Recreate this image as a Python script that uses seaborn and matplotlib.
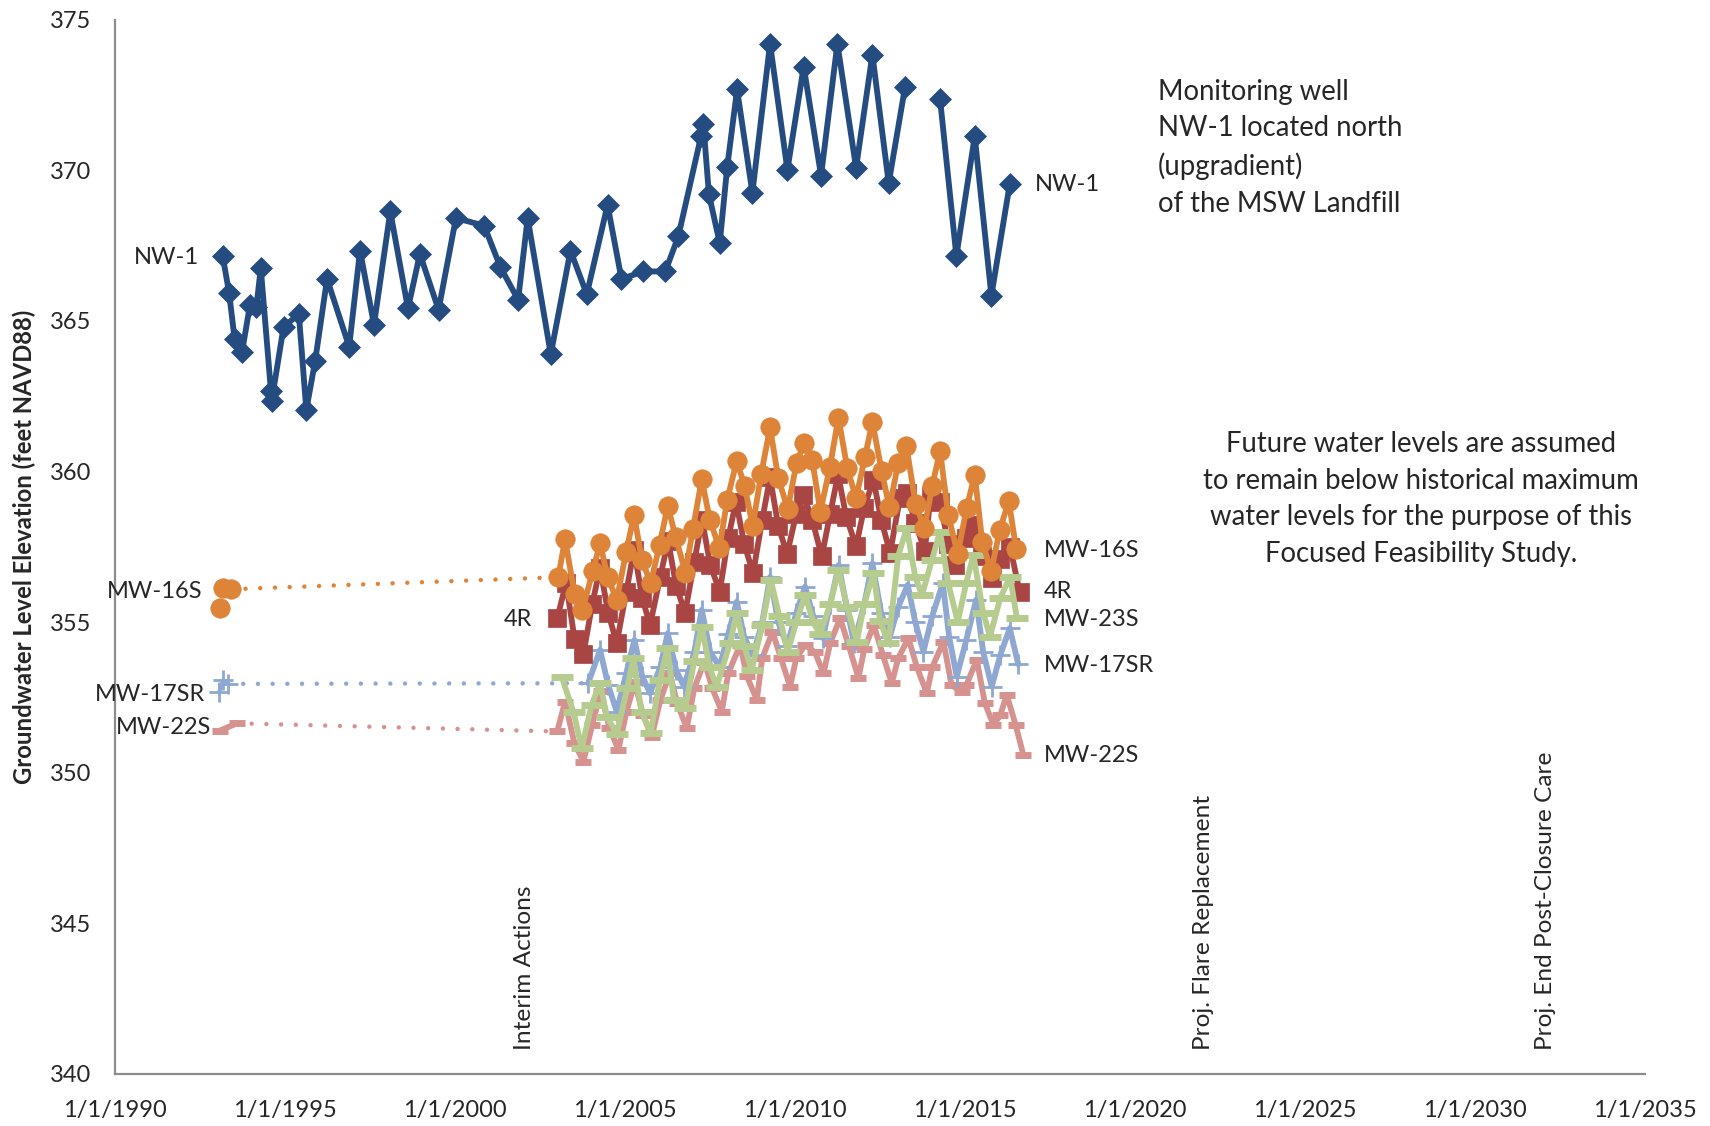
import numpy as np
import pandas as pd
import matplotlib
matplotlib.use("Agg")
import matplotlib.pyplot as plt
import seaborn as sns

# ---------------------------------------------------------------- data
# decimal years / groundwater elevation (ft NAVD88)
nw1_year = [1993.18, 1993.37, 1993.53, 1993.75, 1993.98, 1994.17, 1994.30, 1994.60, 1994.62,
            1994.97, 1995.42, 1995.64, 1995.90, 1996.25, 1996.90, 1997.22, 1997.63, 1998.11,
            1998.63, 1998.98, 1999.53, 2000.04, 2000.87, 2001.35, 2001.87, 2002.15, 2002.83,
            2003.41, 2003.89, 2004.50, 2004.91, 2005.55, 2006.20, 2006.58, 2007.25, 2007.32,
            2007.48, 2007.80, 2008.02, 2008.31, 2008.76, 2009.28, 2009.79, 2010.27, 2010.78,
            2011.26, 2011.81, 2012.29, 2012.77, 2013.25, 2013.80, 2014.28, 2014.76, 2015.30,
            2015.79, 2016.33]
nw1_elev = [367.15, 365.92, 364.40, 363.96, 365.52, 365.45, 366.75, 362.66, 362.33,
            364.79, 365.23, 362.04, 363.67, 366.39, 364.14, 367.33, 364.87, 368.63,
            365.41, 367.22, 365.37, 368.41, 368.16, 366.78, 365.70, 368.41, 363.89,
            367.33, 365.88, 368.85, 366.39, 366.64, 366.64, 367.80, 371.13, 371.53,
            369.21, 367.58, 370.11, 372.68, 369.25, 374.20, 370.01, 373.44, 369.82,
            374.20, 370.08, 373.84, 369.57, 372.76, np.nan, 372.36, 367.15, 371.13,
            365.84, 369.54]

mw16s_year = [1993.11, 1993.20, 1993.42,
              2003.05, 2003.25, 2003.53, 2003.76, 2004.07, 2004.28, 2004.50, 2004.77,
              2005.05, 2005.28, 2005.51, 2005.77, 2006.03, 2006.27, 2006.50, 2006.79,
              2007.01, 2007.27, 2007.51, 2007.79, 2008.02, 2008.30, 2008.53, 2008.77,
              2009.02, 2009.28, 2009.52, 2009.80, 2010.06, 2010.29, 2010.52, 2010.76,
              2011.04, 2011.29, 2011.55, 2011.81, 2012.07, 2012.29, 2012.56, 2012.79,
              2013.05, 2013.29, 2013.56, 2013.82, 2014.05, 2014.28, 2014.52, 2014.80,
              2015.06, 2015.30, 2015.52, 2015.78, 2016.04, 2016.30, 2016.52]
mw16s_elev = [355.48, 356.13, 356.09,
              356.49, 357.75, 355.94, 355.40, 356.71, 357.62, 356.51, 355.74,
              357.34, 358.56, 357.06, 356.29, 357.56, 358.86, 357.84, 356.64,
              358.08, 359.74, 358.39, 357.45, 359.06, 360.35, 359.52, 358.19,
              359.92, 361.46, 359.78, 358.75, 360.29, 360.96, 360.38, 358.67,
              360.14, 361.79, 360.11, 359.11, 360.47, 361.65, 360.03, 358.81,
              360.27, 360.85, 358.92, 358.12, 359.52, 360.69, 358.56, 357.26,
              358.78, 359.89, 357.67, 356.68, 358.06, 359.03, 357.42]

r4_year = [2003.02, 2003.28, 2003.53, 2003.79, 2004.05, 2004.28, 2004.52, 2004.77,
           2005.05, 2005.28, 2005.52, 2005.75, 2006.05, 2006.28, 2006.52, 2006.78,
           2007.05, 2007.28, 2007.52, 2007.80, 2008.05, 2008.28, 2008.52, 2008.78,
           2009.05, 2009.28, 2009.52, 2009.78, 2010.05, 2010.26, 2010.52, 2010.80,
           2011.05, 2011.28, 2011.52, 2011.81, 2012.05, 2012.32, 2012.55, 2012.81,
           2013.10, 2013.30, 2013.55, 2013.83, 2014.00, 2014.28, 2014.52, 2014.72,
           2015.05, 2015.21, 2015.52, 2015.82, 2016.05, 2016.34, 2016.62]
r4_elev = [355.13, 356.30, 354.44, 353.94, 355.60, 356.80, 355.30, 354.30,
           356.00, 357.40, 355.80, 354.90, 356.50, 357.70, 356.20, 355.30,
           357.00, 358.40, 356.90, 356.01, 357.80, 359.00, 357.60, 356.62,
           358.40, 359.80, 358.20, 357.25, 358.60, 359.22, 358.40, 357.18,
           358.60, 359.90, 358.50, 357.51, 358.80, 359.72, 358.40, 357.29,
           359.11, 359.30, 358.30, 357.37, 359.17, 359.00, 357.60, 356.90,
           357.80, 358.23, 357.20, 356.47, 357.10, 357.50, 356.00]

mw17sr_year = [1993.08, 1993.20, 1993.35,
               2003.93, 2004.28, 2004.52, 2004.77, 2005.05, 2005.29, 2005.52, 2005.75,
               2006.05, 2006.27, 2006.52, 2006.75, 2007.05, 2007.27, 2007.52, 2007.80,
               2008.05, 2008.30, 2008.52, 2008.78, 2009.05, 2009.28, 2009.52, 2009.78,
               2010.05, 2010.31, 2010.55, 2010.83, 2011.05, 2011.30, 2011.55, 2011.75,
               2012.05, 2012.29, 2012.55, 2012.80, 2013.05, 2013.33, 2013.55, 2013.79,
               2014.05, 2014.36, 2014.55, 2014.77, 2015.05, 2015.34, 2015.55, 2015.80,
               2016.05, 2016.33, 2016.58]
mw17sr_elev = [352.69, 353.08, 352.95,
               352.97, 354.08, 352.90, 352.03, 353.30, 354.41, 353.20, 352.64,
               353.50, 354.63, 353.40, 352.86, 354.00, 355.41, 354.00, 353.52,
               354.60, 355.68, 354.50, 353.90, 355.00, 356.50, 355.00, 354.20,
               355.30, 356.18, 355.20, 354.47, 355.60, 356.90, 355.40, 354.30,
               355.60, 356.95, 355.30, 354.50, 355.50, 356.24, 355.00, 354.02,
               355.20, 356.29, 354.50, 353.19, 354.40, 355.74, 354.00, 352.86,
               353.90, 354.80, 353.60]

mw22s_year = [1993.10, 1993.60,
              2003.02, 2003.25, 2003.52, 2003.79, 2004.05, 2004.30, 2004.55, 2004.82,
              2005.05, 2005.30, 2005.55, 2005.80, 2006.05, 2006.33, 2006.55, 2006.83,
              2007.05, 2007.35, 2007.58, 2007.86, 2008.05, 2008.40, 2008.60, 2008.89,
              2009.05, 2009.35, 2009.60, 2009.87, 2010.05, 2010.31, 2010.60, 2010.85,
              2011.05, 2011.34, 2011.60, 2011.88, 2012.05, 2012.33, 2012.60, 2012.86,
              2013.05, 2013.35, 2013.60, 2013.89, 2014.05, 2014.38, 2014.62, 2014.92,
              2015.05, 2015.36, 2015.60, 2015.85, 2016.05, 2016.24, 2016.50, 2016.73]
mw22s_elev = [351.40, 351.64,
              351.37, 352.36, 351.00, 350.37, 351.60, 352.70, 351.50, 350.76,
              352.00, 353.00, 351.90, 351.20, 352.40, 353.30, 352.30, 351.48,
              352.80, 353.69, 352.80, 352.03, 353.30, 354.24, 353.20, 352.42,
              353.80, 354.68, 353.80, 352.86, 353.80, 354.24, 354.00, 353.30,
              354.30, 355.13, 354.20, 353.14, 354.10, 354.90, 353.90, 352.97,
              353.80, 354.47, 353.50, 352.64, 353.50, 354.35, 352.90, 352.69,
              352.90, 353.75, 352.30, 351.59, 351.90, 352.59, 351.60, 350.59]

mw23s_year = [2003.15, 2003.50, 2003.74, 2004.03, 2004.28, 2004.48, 2004.77,
              2005.08, 2005.26, 2005.50, 2005.77, 2006.04, 2006.26, 2006.45, 2006.78,
              2007.05, 2007.27, 2007.50, 2007.71, 2008.10, 2008.30, 2008.52, 2008.74,
              2009.05, 2009.30, 2009.55, 2009.80, 2010.05, 2010.31, 2010.55, 2010.75,
              2011.05, 2011.29, 2011.55, 2011.83, 2012.05, 2012.32, 2012.52, 2012.76,
              2013.05, 2013.30, 2013.55, 2013.75, 2014.04, 2014.28, 2014.52, 2014.80,
              2015.05, 2015.26, 2015.55, 2015.75, 2016.05, 2016.34, 2016.54]
mw23s_elev = [353.19, 352.00, 350.82, 352.25, 352.97, 351.86, 351.29,
              352.81, 353.80, 352.00, 351.33, 353.08, 354.13, 352.41, 352.14,
              353.70, 354.85, 353.50, 352.86, 354.30, 355.30, 354.20, 353.41,
              354.90, 356.40, 355.20, 354.02, 355.00, 355.90, 355.00, 354.60,
              355.60, 356.73, 355.50, 354.35, 355.60, 356.62, 355.02, 354.30,
              357.20, 358.12, 356.50, 355.90, 357.06, 358.00, 356.30, 355.00,
              356.30, 357.23, 355.30, 354.52, 355.80, 356.51, 355.13]

x_tick_years = [1990, 1995, 2000, 2005, 2010, 2015, 2020, 2025, 2030, 2035]
x_tick_labels = ["1/1/1990", "1/1/1995", "1/1/2000", "1/1/2005", "1/1/2010",
                 "1/1/2015", "1/1/2020", "1/1/2025", "1/1/2030", "1/1/2035"]
y_ticks = [340, 345, 350, 355, 360, 365, 370, 375]

milestone_years = [2002.06, 2022.04, 2032.08]
milestone_labels = ["Interim Actions", "Proj. Flare Replacement", "Proj. End Post-Closure Care"]

# ---------------------------------------------------------------- style
sns.set_style("white")
plt.rcParams["font.family"] = ["Lato", "DejaVu Sans"]

C_NW1 = "#244C80"
C_16S = "#DD8439"
C_4R = "#A94643"
C_17SR = "#8EA8D2"
C_22S = "#D6928F"
C_23S = "#B5CC8E"

fig = plt.figure(figsize=(17.1, 11.26), dpi=100)
ax = fig.add_axes([0.067, 0.0462, 0.8947, 0.9364])


def frame(years, elev):
    df = pd.DataFrame({"year": years, "elev": elev})
    df["seg"] = df["elev"].isna().cumsum()
    return df.dropna()


def draw(years, elev, color, marker, ms, mew, lw=4.2, z=2):
    df = frame(years, elev)
    sns.lineplot(data=df, x="year", y="elev", units="seg", estimator=None, sort=False,
                 ax=ax, color=color, lw=lw, marker=marker, markersize=ms,
                 markeredgecolor=color, markerfacecolor=color, markeredgewidth=mew,
                 zorder=z, legend=False)


def dotted(years, elev, color, z=1):
    df = pd.DataFrame({"year": years, "elev": elev})
    sns.lineplot(data=df, x="year", y="elev", estimator=None, sort=False, ax=ax,
                 color=color, lw=3.2, linestyle=(0, (0.01, 3.3)),
                 dash_capstyle="round", zorder=z, legend=False)


# dotted links across the 1993-2003 data gap
dotted([mw16s_year[2], mw16s_year[3]], [mw16s_elev[2], mw16s_elev[3]], C_16S)
dotted([mw17sr_year[2], mw17sr_year[3]], [mw17sr_elev[2], mw17sr_elev[3]], C_17SR)
dotted([mw22s_year[1], mw22s_year[2]], [mw22s_elev[1], mw22s_elev[2]], C_22S)

# early 1993 readings (markers only link among themselves)
draw(mw22s_year[:2], mw22s_elev[:2], C_22S, "_", 12, 5, z=2)
draw(mw17sr_year[:3], mw17sr_elev[:3], C_17SR, "+", 14, 2, lw=3, z=3)
draw(mw16s_year[:3], mw16s_elev[:3], C_16S, "o", 14, 0.5, lw=0.01, z=6)

# 2003-2016 monitoring records
draw(mw22s_year[2:], mw22s_elev[2:], C_22S, "_", 12, 5, z=2)
draw(mw17sr_year[3:], mw17sr_elev[3:], C_17SR, "+", 14, 2, z=3)
draw(r4_year, r4_elev, C_4R, "s", 13, 0.5, z=4)
draw(mw23s_year, mw23s_elev, C_23S, "_", 16, 5, z=5)
draw(mw16s_year[3:], mw16s_elev[3:], C_16S, "o", 14, 0.5, z=6)
draw(nw1_year, nw1_elev, C_NW1, "D", 11, 0.5, z=7)

# ---------------------------------------------------------------- axes
ax.set_xlim(1990, 2035)
ax.set_ylim(340, 375)
ax.set_xticks(x_tick_years)
ax.set_xticklabels(x_tick_labels)
ax.set_xticks(np.arange(1990, 2036, 1), minor=True)
ax.set_yticks(y_ticks)
ax.set_yticks(np.arange(340, 376, 1), minor=True)
ax.set_xlabel("")
ax.set_ylabel("Groundwater Level Elevation (feet NAVD88)", fontsize=17.2,
              fontweight="bold")
ax.yaxis.set_label_coords(-0.051, 0.5)

for side in ["top", "right"]:
    ax.spines[side].set_visible(False)
for side in ["left", "bottom"]:
    ax.spines[side].set_color("#8C8C8C")
    ax.spines[side].set_linewidth(1.6)

ax.tick_params(axis="x", which="major", direction="inout", length=14, width=1.4,
               color="#8C8C8C", labelsize=17, pad=12)
ax.tick_params(axis="x", which="minor", direction="out", length=6, width=1.2,
               color="#8C8C8C")
ax.tick_params(axis="y", which="major", direction="out", length=7, width=1.4,
               color="#8C8C8C", labelsize=17, pad=10)
ax.tick_params(axis="y", which="minor", direction="out", length=6, width=1.2,
               color="#8C8C8C")

# ---------------------------------------------------------------- text
fs = 17
ax.text(1992.47, 367.11, "NW-1", ha="right", va="center", fontsize=fs)
ax.text(2017.07, 369.53, "NW-1", ha="left", va="center", fontsize=fs)
ax.text(2020.69, 370.75,
        "Monitoring well\nNW-1 located north\n(upgradient)\nof the MSW Landfill",
        ha="left", va="center", fontsize=19.8, linespacing=1.5)
ax.text(2028.42, 359.09,
        "Future water levels are assumed\nto remain below historical maximum\n"
        "water levels for the purpose of this\nFocused Feasibility Study.",
        ha="center", va="center", multialignment="center", fontsize=19.8,
        linespacing=1.5)

right_labels = [("MW-16S", 357.37), ("4R", 356.0), ("MW-23S", 355.09),
                ("MW-17SR", 353.57), ("MW-22S", 350.57)]
for lab, yv in right_labels:
    ax.text(2017.33, yv, lab, ha="left", va="center", fontsize=fs)

left_labels = [("MW-16S", 1992.6, 356.0), ("4R", 2002.28, 355.09),
               ("MW-17SR", 1992.66, 352.6), ("MW-22S", 1992.85, 351.51)]
for lab, xv, yv in left_labels:
    ax.text(xv, yv, lab, ha="right", va="center", fontsize=fs, zorder=10)

for xv, lab in zip(milestone_years, milestone_labels):
    ax.text(xv, 340.8, lab, rotation=90, ha="center", va="bottom", fontsize=17.6)

fig.savefig("out.png", dpi=100)
